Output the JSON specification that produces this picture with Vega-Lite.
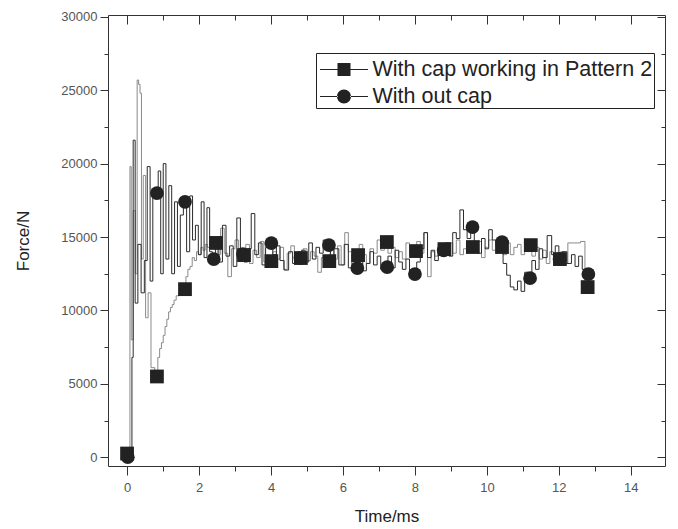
{
  "$schema": "https://vega.github.io/schema/vega-lite/v6.json",
  "width": 557,
  "height": 451,
  "autosize": {"type": "none"},
  "padding": {"left": 108, "top": 15, "right": 13, "bottom": 63},
  "background": "white",
  "config": {
    "view": {"stroke": null},
    "font": "Liberation Sans",
    "axis": {"grid": false, "domainColor": "#333", "tickColor": "#333", "labelColor": "#555", "labelFontSize": 13, "titleFontSize": 17, "titleFontWeight": "normal", "titleColor": "#222", "labelFont": "Liberation Sans", "titleFont": "Liberation Sans"}
  },
  "datasets": {
    "lines": [
      {"t":0.00,"force":200,"series":"A"},{"t":0.07,"force":200,"series":"A"},{"t":0.09,"force":19800,"series":"A"},{"t":0.14,"force":8000,"series":"A"},{"t":0.20,"force":16800,"series":"A"},{"t":0.26,"force":12500,"series":"A"},{"t":0.30,"force":25700,"series":"A"},{"t":0.34,"force":25400,"series":"A"},{"t":0.38,"force":24800,"series":"A"},{"t":0.42,"force":13500,"series":"A"},{"t":0.48,"force":19200,"series":"A"},{"t":0.55,"force":9500,"series":"A"},{"t":0.62,"force":11200,"series":"A"},{"t":0.71,"force":6100,"series":"A"},{"t":0.83,"force":5500,"series":"A"},{"t":0.88,"force":6800,"series":"A"},{"t":0.93,"force":7400,"series":"A"},{"t":0.98,"force":7800,"series":"A"},{"t":1.03,"force":8300,"series":"A"},{"t":1.08,"force":8900,"series":"A"},{"t":1.13,"force":9400,"series":"A"},{"t":1.18,"force":9900,"series":"A"},{"t":1.23,"force":10200,"series":"A"},{"t":1.28,"force":10400,"series":"A"},{"t":1.33,"force":10700,"series":"A"},{"t":1.40,"force":11000,"series":"A"},{"t":1.48,"force":11200,"series":"A"},{"t":1.55,"force":11350,"series":"A"},{"t":1.61,"force":11450,"series":"A"},{"t":1.66,"force":12300,"series":"A"},{"t":1.72,"force":12800,"series":"A"},{"t":1.78,"force":13000,"series":"A"},{"t":1.84,"force":13600,"series":"A"},{"t":1.90,"force":13400,"series":"A"},{"t":1.96,"force":14000,"series":"A"},{"t":2.02,"force":13800,"series":"A"},{"t":2.08,"force":14300,"series":"A"},{"t":2.14,"force":14100,"series":"A"},{"t":2.20,"force":14500,"series":"A"},{"t":2.26,"force":14300,"series":"A"},{"t":2.32,"force":14700,"series":"A"},{"t":2.40,"force":14600,"series":"A"},{"t":2.47,"force":14600,"series":"A"},{"t":2.55,"force":13800,"series":"A"},{"t":2.65,"force":15600,"series":"A"},{"t":2.75,"force":13900,"series":"A"},{"t":2.85,"force":12300,"series":"A"},{"t":2.95,"force":14200,"series":"A"},{"t":3.05,"force":14800,"series":"A"},{"t":3.15,"force":13500,"series":"A"},{"t":3.25,"force":13770,"series":"A"},{"t":3.35,"force":14500,"series":"A"},{"t":3.45,"force":13200,"series":"A"},{"t":3.55,"force":14100,"series":"A"},{"t":3.65,"force":13600,"series":"A"},{"t":3.75,"force":14700,"series":"A"},{"t":3.85,"force":13300,"series":"A"},{"t":4.00,"force":13360,"series":"A"},{"t":4.10,"force":14000,"series":"A"},{"t":4.20,"force":13500,"series":"A"},{"t":4.30,"force":14300,"series":"A"},{"t":4.40,"force":12800,"series":"A"},{"t":4.50,"force":13900,"series":"A"},{"t":4.60,"force":14400,"series":"A"},{"t":4.70,"force":13500,"series":"A"},{"t":4.83,"force":13570,"series":"A"},{"t":4.95,"force":14200,"series":"A"},{"t":5.05,"force":13400,"series":"A"},{"t":5.15,"force":14000,"series":"A"},{"t":5.25,"force":13700,"series":"A"},{"t":5.35,"force":12600,"series":"A"},{"t":5.45,"force":13600,"series":"A"},{"t":5.60,"force":13360,"series":"A"},{"t":5.70,"force":14100,"series":"A"},{"t":5.80,"force":13500,"series":"A"},{"t":5.90,"force":14400,"series":"A"},{"t":6.00,"force":13100,"series":"A"},{"t":6.10,"force":15300,"series":"A"},{"t":6.20,"force":14000,"series":"A"},{"t":6.30,"force":13600,"series":"A"},{"t":6.40,"force":13770,"series":"A"},{"t":6.50,"force":14500,"series":"A"},{"t":6.60,"force":13800,"series":"A"},{"t":6.70,"force":13200,"series":"A"},{"t":6.80,"force":14200,"series":"A"},{"t":6.90,"force":13900,"series":"A"},{"t":7.00,"force":14800,"series":"A"},{"t":7.10,"force":14100,"series":"A"},{"t":7.20,"force":14660,"series":"A"},{"t":7.30,"force":13900,"series":"A"},{"t":7.40,"force":14300,"series":"A"},{"t":7.50,"force":13600,"series":"A"},{"t":7.60,"force":14000,"series":"A"},{"t":7.70,"force":13500,"series":"A"},{"t":7.80,"force":14600,"series":"A"},{"t":7.90,"force":13800,"series":"A"},{"t":8.00,"force":14045,"series":"A"},{"t":8.10,"force":14700,"series":"A"},{"t":8.20,"force":13900,"series":"A"},{"t":8.30,"force":15300,"series":"A"},{"t":8.40,"force":12300,"series":"A"},{"t":8.50,"force":14000,"series":"A"},{"t":8.60,"force":13700,"series":"A"},{"t":8.70,"force":14500,"series":"A"},{"t":8.80,"force":14180,"series":"A"},{"t":8.90,"force":14000,"series":"A"},{"t":9.00,"force":14600,"series":"A"},{"t":9.10,"force":13900,"series":"A"},{"t":9.20,"force":14800,"series":"A"},{"t":9.30,"force":13800,"series":"A"},{"t":9.40,"force":14200,"series":"A"},{"t":9.50,"force":14500,"series":"A"},{"t":9.60,"force":14320,"series":"A"},{"t":9.70,"force":14000,"series":"A"},{"t":9.80,"force":14700,"series":"A"},{"t":9.90,"force":13600,"series":"A"},{"t":10.00,"force":14300,"series":"A"},{"t":10.10,"force":14800,"series":"A"},{"t":10.20,"force":14100,"series":"A"},{"t":10.30,"force":14500,"series":"A"},{"t":10.40,"force":14320,"series":"A"},{"t":10.50,"force":13800,"series":"A"},{"t":10.60,"force":14600,"series":"A"},{"t":10.70,"force":13800,"series":"A"},{"t":10.80,"force":14300,"series":"A"},{"t":10.90,"force":14500,"series":"A"},{"t":11.00,"force":13800,"series":"A"},{"t":11.10,"force":14700,"series":"A"},{"t":11.20,"force":14450,"series":"A"},{"t":11.30,"force":13700,"series":"A"},{"t":11.40,"force":14300,"series":"A"},{"t":11.50,"force":13500,"series":"A"},{"t":11.60,"force":14100,"series":"A"},{"t":11.70,"force":13200,"series":"A"},{"t":11.80,"force":14000,"series":"A"},{"t":11.90,"force":13300,"series":"A"},{"t":12.00,"force":13500,"series":"A"},{"t":12.10,"force":14000,"series":"A"},{"t":12.20,"force":13200,"series":"A"},{"t":12.30,"force":14600,"series":"A"},{"t":12.50,"force":14600,"series":"A"},{"t":12.70,"force":14700,"series":"A"},{"t":12.75,"force":11400,"series":"A"},{"t":12.80,"force":11590,"series":"A"},
      {"t":0.00,"force":0,"series":"B"},{"t":0.12,"force":0,"series":"B"},{"t":0.15,"force":6800,"series":"B"},{"t":0.19,"force":21600,"series":"B"},{"t":0.26,"force":10500,"series":"B"},{"t":0.34,"force":14500,"series":"B"},{"t":0.44,"force":11200,"series":"B"},{"t":0.52,"force":13400,"series":"B"},{"t":0.60,"force":19800,"series":"B"},{"t":0.68,"force":12000,"series":"B"},{"t":0.75,"force":17800,"series":"B"},{"t":0.83,"force":18000,"series":"B"},{"t":0.90,"force":19500,"series":"B"},{"t":0.97,"force":12500,"series":"B"},{"t":1.04,"force":20000,"series":"B"},{"t":1.12,"force":13500,"series":"B"},{"t":1.20,"force":18500,"series":"B"},{"t":1.28,"force":12500,"series":"B"},{"t":1.36,"force":17400,"series":"B"},{"t":1.44,"force":13000,"series":"B"},{"t":1.52,"force":16500,"series":"B"},{"t":1.61,"force":17400,"series":"B"},{"t":1.70,"force":14000,"series":"B"},{"t":1.78,"force":17800,"series":"B"},{"t":1.86,"force":14800,"series":"B"},{"t":1.94,"force":15800,"series":"B"},{"t":2.02,"force":13800,"series":"B"},{"t":2.10,"force":17400,"series":"B"},{"t":2.18,"force":13600,"series":"B"},{"t":2.26,"force":17000,"series":"B"},{"t":2.33,"force":14000,"series":"B"},{"t":2.41,"force":13500,"series":"B"},{"t":2.50,"force":14200,"series":"B"},{"t":2.60,"force":13300,"series":"B"},{"t":2.70,"force":15800,"series":"B"},{"t":2.80,"force":13700,"series":"B"},{"t":2.90,"force":14400,"series":"B"},{"t":3.00,"force":13000,"series":"B"},{"t":3.10,"force":16300,"series":"B"},{"t":3.20,"force":13840,"series":"B"},{"t":3.30,"force":13300,"series":"B"},{"t":3.40,"force":14200,"series":"B"},{"t":3.50,"force":16600,"series":"B"},{"t":3.60,"force":13800,"series":"B"},{"t":3.70,"force":14600,"series":"B"},{"t":3.80,"force":13100,"series":"B"},{"t":3.90,"force":14300,"series":"B"},{"t":4.00,"force":14590,"series":"B"},{"t":4.10,"force":13800,"series":"B"},{"t":4.20,"force":14400,"series":"B"},{"t":4.30,"force":13400,"series":"B"},{"t":4.43,"force":12750,"series":"B"},{"t":4.55,"force":14000,"series":"B"},{"t":4.65,"force":13200,"series":"B"},{"t":4.80,"force":13570,"series":"B"},{"t":4.90,"force":14100,"series":"B"},{"t":5.00,"force":13300,"series":"B"},{"t":5.10,"force":14600,"series":"B"},{"t":5.20,"force":13500,"series":"B"},{"t":5.30,"force":14300,"series":"B"},{"t":5.40,"force":13900,"series":"B"},{"t":5.50,"force":14800,"series":"B"},{"t":5.60,"force":14450,"series":"B"},{"t":5.70,"force":13700,"series":"B"},{"t":5.80,"force":14200,"series":"B"},{"t":5.97,"force":13100,"series":"B"},{"t":6.10,"force":14500,"series":"B"},{"t":6.20,"force":12900,"series":"B"},{"t":6.30,"force":13800,"series":"B"},{"t":6.40,"force":12890,"series":"B"},{"t":6.50,"force":13400,"series":"B"},{"t":6.60,"force":12700,"series":"B"},{"t":6.70,"force":13200,"series":"B"},{"t":6.80,"force":14000,"series":"B"},{"t":6.90,"force":13100,"series":"B"},{"t":7.00,"force":13700,"series":"B"},{"t":7.10,"force":12800,"series":"B"},{"t":7.20,"force":12950,"series":"B"},{"t":7.30,"force":13700,"series":"B"},{"t":7.40,"force":12900,"series":"B"},{"t":7.50,"force":14100,"series":"B"},{"t":7.60,"force":13300,"series":"B"},{"t":7.70,"force":12800,"series":"B"},{"t":7.80,"force":13500,"series":"B"},{"t":7.90,"force":12600,"series":"B"},{"t":8.00,"force":12480,"series":"B"},{"t":8.10,"force":13300,"series":"B"},{"t":8.20,"force":14200,"series":"B"},{"t":8.30,"force":15300,"series":"B"},{"t":8.40,"force":13600,"series":"B"},{"t":8.50,"force":14100,"series":"B"},{"t":8.60,"force":13400,"series":"B"},{"t":8.70,"force":14300,"series":"B"},{"t":8.80,"force":14100,"series":"B"},{"t":8.90,"force":14600,"series":"B"},{"t":9.00,"force":13700,"series":"B"},{"t":9.10,"force":15300,"series":"B"},{"t":9.20,"force":14900,"series":"B"},{"t":9.30,"force":16850,"series":"B"},{"t":9.40,"force":15500,"series":"B"},{"t":9.50,"force":14900,"series":"B"},{"t":9.60,"force":15680,"series":"B"},{"t":9.70,"force":14600,"series":"B"},{"t":9.80,"force":13900,"series":"B"},{"t":9.90,"force":14900,"series":"B"},{"t":10.00,"force":14200,"series":"B"},{"t":10.10,"force":15500,"series":"B"},{"t":10.20,"force":14800,"series":"B"},{"t":10.40,"force":14660,"series":"B"},{"t":10.50,"force":13200,"series":"B"},{"t":10.60,"force":12400,"series":"B"},{"t":10.70,"force":11600,"series":"B"},{"t":10.80,"force":11400,"series":"B"},{"t":10.90,"force":12000,"series":"B"},{"t":11.00,"force":11300,"series":"B"},{"t":11.10,"force":12600,"series":"B"},{"t":11.20,"force":12200,"series":"B"},{"t":11.30,"force":13400,"series":"B"},{"t":11.40,"force":12800,"series":"B"},{"t":11.50,"force":14200,"series":"B"},{"t":11.60,"force":13600,"series":"B"},{"t":11.75,"force":15100,"series":"B"},{"t":11.85,"force":13800,"series":"B"},{"t":11.95,"force":14400,"series":"B"},{"t":12.05,"force":13300,"series":"B"},{"t":12.15,"force":14000,"series":"B"},{"t":12.30,"force":13200,"series":"B"},{"t":12.40,"force":13800,"series":"B"},{"t":12.50,"force":13000,"series":"B"},{"t":12.60,"force":13700,"series":"B"},{"t":12.70,"force":12800,"series":"B"},{"t":12.80,"force":12480,"series":"B"}
    ],
    "markers": [
      {"t":0.02,"force":0,"series":"With out cap"},{"t":0.83,"force":18000,"series":"With out cap"},{"t":1.61,"force":17400,"series":"With out cap"},{"t":2.41,"force":13500,"series":"With out cap"},{"t":3.22,"force":13840,"series":"With out cap"},{"t":4.01,"force":14590,"series":"With out cap"},{"t":4.82,"force":13570,"series":"With out cap"},{"t":5.61,"force":14450,"series":"With out cap"},{"t":6.40,"force":12890,"series":"With out cap"},{"t":7.23,"force":12950,"series":"With out cap"},{"t":8.00,"force":12480,"series":"With out cap"},{"t":8.80,"force":14100,"series":"With out cap"},{"t":9.60,"force":15680,"series":"With out cap"},{"t":10.42,"force":14660,"series":"With out cap"},{"t":11.20,"force":12200,"series":"With out cap"},{"t":12.02,"force":13500,"series":"With out cap"},{"t":12.82,"force":12480,"series":"With out cap"},
      {"t":0.00,"force":250,"series":"With cap working in Pattern 2"},{"t":0.83,"force":5500,"series":"With cap working in Pattern 2"},{"t":1.61,"force":11450,"series":"With cap working in Pattern 2"},{"t":2.47,"force":14600,"series":"With cap working in Pattern 2"},{"t":3.25,"force":13770,"series":"With cap working in Pattern 2"},{"t":4.01,"force":13360,"series":"With cap working in Pattern 2"},{"t":4.83,"force":13570,"series":"With cap working in Pattern 2"},{"t":5.62,"force":13360,"series":"With cap working in Pattern 2"},{"t":6.42,"force":13770,"series":"With cap working in Pattern 2"},{"t":7.22,"force":14660,"series":"With cap working in Pattern 2"},{"t":8.03,"force":14045,"series":"With cap working in Pattern 2"},{"t":8.82,"force":14180,"series":"With cap working in Pattern 2"},{"t":9.61,"force":14320,"series":"With cap working in Pattern 2"},{"t":10.42,"force":14320,"series":"With cap working in Pattern 2"},{"t":11.22,"force":14450,"series":"With cap working in Pattern 2"},{"t":12.03,"force":13500,"series":"With cap working in Pattern 2"},{"t":12.80,"force":11590,"series":"With cap working in Pattern 2"}
    ]
  },
  "resolve": {"axis": {"x": "independent", "y": "independent"}, "scale": {"shape": "independent"}},
  "layer": [
    {
      "data": {"name": "lines"},
      "mark": {"type": "line", "interpolate": "step", "strokeWidth": 1},
      "encoding": {
        "x": {"field": "t", "type": "quantitative", "scale": {"domain": [-0.53, 14.95], "nice": false, "zero": false},
          "axis": {"orient": "bottom", "title": "Time/ms", "values": [0,1,2,3,4,5,6,7,8,9,10,11,12,13,14], "labelExpr": "datum.value % 2 === 0 ? datum.label : ''", "tickSize": {"condition": {"test": "datum.value % 2 !== 0", "value": 5}, "value": 9}, "labelPadding": 6, "titlePadding": 14, "labelFlush": false}},
        "y": {"field": "force", "type": "quantitative", "scale": {"domain": [-600, 30130], "nice": false, "zero": false},
          "axis": {"orient": "left", "title": "Force/N", "format": "d", "values": [0,2500,5000,7500,10000,12500,15000,17500,20000,22500,25000,27500,30000], "labelExpr": "datum.value % 5000 === 0 ? datum.label : ''", "tickSize": {"condition": {"test": "datum.value % 5000 !== 0", "value": 4}, "value": 8}, "labelPadding": 3, "titlePadding": 28, "labelFlush": false}},
        "color": {"field": "series", "type": "nominal", "scale": {"domain": ["A","B"], "range": ["#8a8a8a", "#2b2b2b"]}, "legend": null}
      }
    },
    {
      "data": {"name": "markers"},
      "mark": {"type": "point", "filled": true, "fill": "#222", "opacity": 1, "size": 190},
      "encoding": {
        "x": {"field": "t", "type": "quantitative", "scale": {"domain": [-0.53, 14.95], "nice": false, "zero": false},
          "axis": {"orient": "top", "title": null, "labels": false, "values": [0,1,2,3,4,5,6,7,8,9,10,11,12,13,14], "tickSize": {"condition": {"test": "datum.value % 2 !== 0", "value": -5}, "value": -9}}},
        "y": {"field": "force", "type": "quantitative", "scale": {"domain": [-600, 30130], "nice": false, "zero": false},
          "axis": {"orient": "right", "title": null, "labels": false, "values": [0,2500,5000,7500,10000,12500,15000,17500,20000,22500,25000,27500,30000], "tickSize": {"condition": {"test": "datum.value % 5000 !== 0", "value": -4}, "value": -8}}},
        "shape": {"field": "series", "type": "nominal", "scale": {"domain": ["With cap working in Pattern 2", "With out cap"], "range": ["square", "circle"]}, "legend": null}
      }
    },
    {
      "data": {"name": "markers"},
      "mark": {"type": "point", "filled": true, "fill": "#222", "opacity": 0, "size": 961},
      "encoding": {
        "x": {"field": "t", "type": "quantitative", "scale": {"domain": [-0.53, 14.95], "nice": false, "zero": false}, "axis": null},
        "y": {"field": "force", "type": "quantitative", "scale": {"domain": [-600, 30130], "nice": false, "zero": false}, "axis": null},
        "shape": {"field": "series", "type": "nominal",
          "scale": {"domain": ["With cap working in Pattern 2", "With out cap"], "range": ["M-1.55,-0.035H-0.4V0.035H-1.55Z M0.4,-0.035H1.55V0.035H0.4Z M-0.42,-0.42H0.42V0.42H-0.42Z", "M-1.55,-0.035H-0.4V0.035H-1.55Z M0.4,-0.035H1.55V0.035H0.4Z M-0.45,0A0.45,0.45 0 1,0 0.45,0A0.45,0.45 0 1,0 -0.45,0Z"]},
          "legend": {"title": null, "orient": "none", "legendX": 208, "legendY": 38, "strokeColor": "#222", "fillColor": "white", "padding": 1, "rowPadding": 1, "symbolSize": 961, "symbolOpacity": 1, "symbolStrokeWidth": 0, "symbolFillColor": "#222", "symbolOffset": 11.5, "labelFontSize": 21.5, "labelFont": "Liberation Sans", "labelColor": "#222", "labelOffset": 13, "labelLimit": 400}}
      }
    }
  ]
}
